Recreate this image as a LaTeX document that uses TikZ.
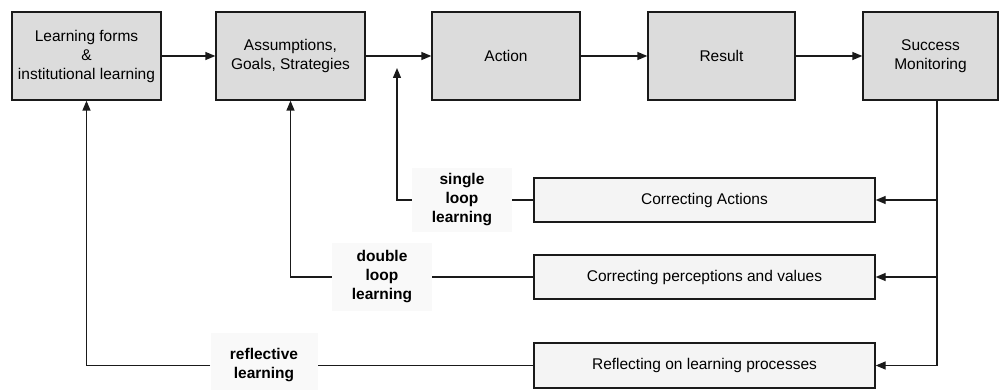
\documentclass[tikz,border=0pt]{standalone}
\usepackage{fontspec}
\setmainfont{Liberation Sans}
\usetikzlibrary{arrows.meta}
\definecolor{topgray}{HTML}{DCDCDC}
\definecolor{lowgray}{HTML}{F4F4F4}
\definecolor{labelgray}{HTML}{F9F9F9}
\definecolor{ink}{HTML}{1A1A1A}
\begin{document}
\begin{tikzpicture}[x=1pt,y=-1pt,
  stage/.style={draw=ink, line width=1.3pt, fill=topgray, minimum height=88pt,
    inner sep=0pt, align=center, font=\fontsize{15.5}{19}\selectfont},
  fix/.style={draw=ink, line width=1.3pt, fill=lowgray, minimum width=341pt,
    minimum height=44pt, inner sep=0pt, font=\fontsize{15.5}{19}\selectfont},
  looplabel/.style={fill=labelgray, inner sep=0pt, align=center,
    minimum width=100pt, font=\bfseries\fontsize{15.5}{19}\selectfont},
  link/.style={draw=ink, line width=1.3pt},
  arr/.style={link, -{Triangle[length=10pt,width=8pt]}}]
\useasboundingbox (0,0) rectangle (999,390);

% main chain
\node[stage, minimum width=149pt] (forms) at (86.5,56) {Learning forms\\\&\\institutional learning};
\node[stage, minimum width=149pt] (goals) at (290.5,56) {Assumptions,\\Goals, Strategies};
\node[stage, minimum width=148pt] (action) at (506,56) {Action};
\node[stage, minimum width=147pt] (result) at (721.5,56) {Result};
\node[stage, minimum width=135pt] (monitor) at (930.5,56) {Success\\Monitoring};

\draw[arr] (forms) -- (goals);
\draw[arr] (goals) -- (action);
\draw[arr] (action) -- (result);
\draw[arr] (result) -- (monitor);

% feedback boxes
\node[fix] (corract) at (704.5,200) {Correcting Actions};
\node[fix] (corrperc) at (704.5,277) {Correcting perceptions and values};
\node[fix, minimum height=45pt] (reflect) at (704.5,365.5) {Reflecting on learning processes};

% loop labels
\node[looplabel, minimum height=64pt] (single) at (462,200) {single\\loop\\learning};
\node[looplabel, minimum height=67pt] (double) at (382,277) {double\\loop\\learning};
\node[looplabel, minimum width=107pt, minimum height=66pt] (reflective) at (264,365.5) {reflective\\learning};

% trunk from success monitoring
\coordinate (trunk) at (937,365.5);
\coordinate (singletip) at (397,68);
\draw[link] (monitor.south -| trunk) -- (trunk);
\draw[arr] (corract.east -| trunk) -- (corract.east);
\draw[arr] (corrperc.east -| trunk) -- (corrperc.east);
\draw[arr] (trunk) -- (reflect.east);

% loops back
\draw[link] (corract.west) -- (single.east);
\draw[arr] (single.west) -| (singletip);
\draw[link] (corrperc.west) -- (double.east);
\draw[arr] (double.west) -| (goals.south);
\draw[link] (reflect.west) -- (reflective.east);
\draw[arr] (reflective.west) -| (forms.south);
\end{tikzpicture}
\end{document}
